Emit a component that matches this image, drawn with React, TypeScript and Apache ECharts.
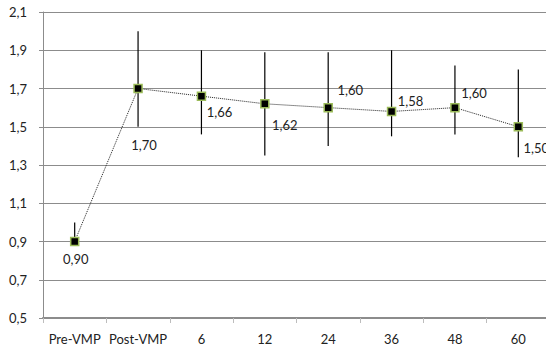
import React, { useEffect, useRef } from "react";
import * as echarts from "echarts";

const categories = ["Pre-VMP", "Post-VMP", "6", "12", "24", "36", "48", "60"];
const means = [0.9, 1.7, 1.66, 1.62, 1.6, 1.58, 1.6, 1.5];
const errLow = [0.9, 1.5, 1.46, 1.35, 1.4, 1.45, 1.46, 1.34];
const errHigh = [1.0, 2.0, 1.9, 1.89, 1.89, 1.9, 1.82, 1.8];
const labelOffsets: [number, number][] = [
  [1, 17],
  [6, 56],
  [18, 16],
  [20, 21],
  [22, -18],
  [19, -10],
  [19, -15],
  [18, 21],
];

const fmt = (v: number, d: number) => v.toFixed(d).replace(".", ",");
const FONT = "Lato";

export default function App() {
  const ref = useRef<HTMLDivElement>(null);
  useEffect(() => {
    if (!ref.current) return;
    const chart = echarts.init(ref.current, undefined, { renderer: "svg" });
    chart.setOption({
      animation: false,
      backgroundColor: "#ffffff",
      grid: { left: 43, right: 0, top: 12, bottom: 33, containLabel: false },
      xAxis: {
        type: "category",
        data: categories,
        boundaryGap: true,
        axisLine: { show: true, lineStyle: { color: "#8c8c8c", width: 2 } },
        axisTick: { show: true, interval: 0, length: 5, lineStyle: { color: "#bdbdbd", width: 1 } },
        axisLabel: { interval: 0, color: "#222", fontFamily: FONT, fontSize: 13, margin: 14 },
        splitLine: { show: false },
      },
      yAxis: {
        type: "value",
        min: 0.5,
        max: 2.1,
        interval: 0.2,
        axisLine: { show: true, lineStyle: { color: "#8c8c8c", width: 1 } },
        axisTick: { show: true, length: 4, lineStyle: { color: "#8c8c8c" } },
        axisLabel: {
          color: "#222",
          fontFamily: FONT,
          fontSize: 13,
          margin: 16,
          formatter: (v: number) => fmt(v, 1),
        },
        splitLine: { show: true, lineStyle: { color: "#8c8c8c", width: 1 } },
      },
      series: [
        {
          type: "custom",
          z: 2,
          data: categories.map((_, i) => [i, errLow[i], errHigh[i]]),
          encode: { x: 0, y: [1, 2] },
          renderItem: (params: any, api: any) => {
            const x = api.value(0);
            const lo = api.coord([x, api.value(1)]);
            const hi = api.coord([x, api.value(2)]);
            return {
              type: "line",
              shape: { x1: lo[0], y1: lo[1], x2: hi[0], y2: hi[1] },
              style: { stroke: "#000", lineWidth: 1.2 },
            };
          },
        },
        {
          type: "line",
          z: 3,
          data: means.map((v, i) => ({
            value: v,
            label: { offset: labelOffsets[i] },
          })),
          symbol: "rect",
          symbolSize: 8,
          lineStyle: { color: "#222", width: 1, type: "dotted" },
          itemStyle: { color: "#000", borderColor: "#9bbb59", borderWidth: 1.5 },
          label: {
            show: true,
            position: "inside",
            color: "#222",
            fontFamily: FONT,
            fontSize: 13,
            formatter: (p: any) => fmt(p.value, 2),
          },
        },
      ],
    });
    return () => chart.dispose();
  }, []);
  return (
    <div
      ref={ref}
      style={{ position: "fixed", left: 0, top: 0, width: 550, height: 351, background: "#fff" }}
    />
  );
}
